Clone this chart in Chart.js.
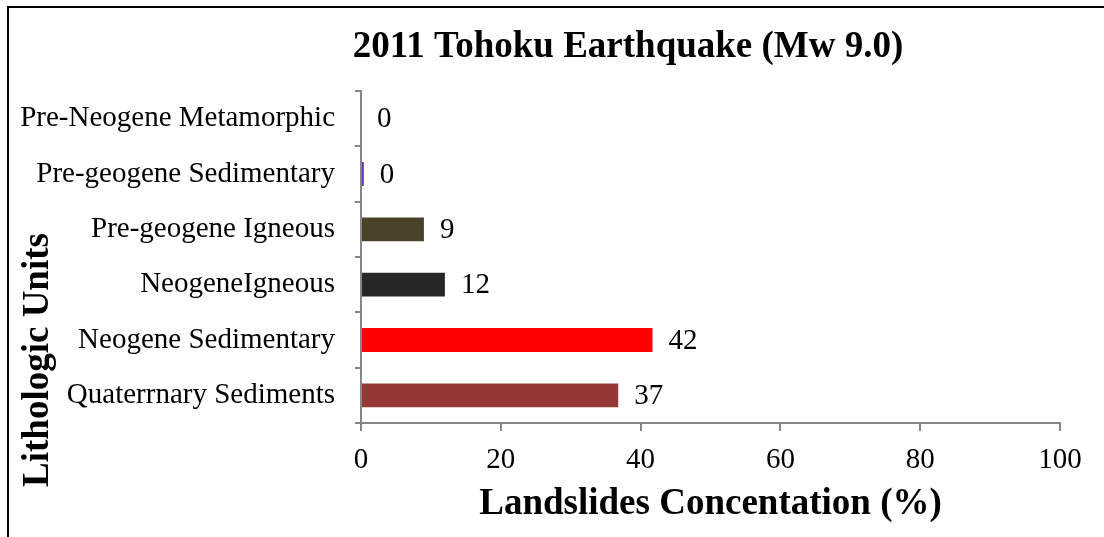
<!DOCTYPE html>
<html>
<head>
<meta charset="utf-8">
<title>2011 Tohoku Earthquake - Landslides by Lithology</title>
<script src="https://cdn.jsdelivr.net/npm/chart.js@4.4.1/dist/chart.umd.min.js"></script>
<style>
    html, body {
        margin: 0;
        padding: 0;
        background: #fff;
        overflow: hidden;
    }
    .chart-wrap {
        position: relative;
        width: 1104px;
        height: 537px;
    }
    .chart-wrap canvas {
        display: block;
    }
    .frame {
        position: absolute;
        left: 7px;
        top: 6px;
        right: -10px;
        bottom: -10px;
        border-top: 2px solid #000;
        border-left: 2px solid #000;
        pointer-events: none;
    }
</style>
</head>
<body>
<div class="chart-wrap">
    <canvas id="lithologyChart" width="1104" height="537"></canvas>
    <div class="frame"></div>
</div>
<script>
// Landslide share per lithologic unit
const units = [
    'Pre-Neogene Metamorphic',
    'Pre-geogene Sedimentary',
    'Pre-geogene Igneous',
    'NeogeneIgneous',
    'Neogene Sedimentary',
    'Quaterrnary Sediments'
];
const concentration = [0, 0.4, 9, 12, 41.7, 36.8];
const barColors = ['#4f81bd', '#7030a0', '#4a4229', '#262626', '#ff0000', '#953735'];
const xTicks = [0, 20, 40, 60, 80, 100];

const chartTitle = '2011 Tohoku Earthquake (Mw 9.0)';
const yTitle = 'Lithologic Units';
const xTitle = 'Landslides Concentation (%)';

const SERIF = '"Liberation Serif", "Times New Roman", serif';
const AXIS_GREY = '#868686';

// value labels just past the end of each bar
const barValueLabels = {
    id: 'barValueLabels',
    afterDatasetsDraw(chart) {
        const ctx = chart.ctx;
        const meta = chart.getDatasetMeta(0);
        ctx.save();
        ctx.font = '29px ' + SERIF;
        ctx.fillStyle = '#000';
        ctx.textAlign = 'left';
        ctx.textBaseline = 'middle';
        meta.data.forEach((bar, i) => {
            ctx.fillText(String(Math.round(concentration[i])), bar.x + 16, bar.y + 1);
        });
        ctx.restore();
    }
};

// main title and the rotated y-axis title; both sit off the plot centre
const outerTitles = {
    id: 'outerTitles',
    afterDraw(chart) {
        const ctx = chart.ctx;
        ctx.save();
        ctx.fillStyle = '#000';
        ctx.textAlign = 'center';

        ctx.font = 'bold 37px ' + SERIF;
        ctx.textBaseline = 'alphabetic';
        ctx.fillText(chartTitle, 628, 57);

        ctx.translate(48, 360);
        ctx.rotate(-Math.PI / 2);
        ctx.fillText(yTitle, 0, 0);
        ctx.restore();
    }
};

function initChart() {
    const ctx = document.getElementById('lithologyChart').getContext('2d');
    new Chart(ctx, {
        type: 'bar',
        data: {
            labels: units,
            datasets: [{
                data: concentration,
                backgroundColor: barColors,
                borderWidth: 0,
                categoryPercentage: 1,
                barPercentage: 0.43
            }]
        },
        options: {
            indexAxis: 'y',
            responsive: false,
            animation: false,
            devicePixelRatio: 1,
            layout: {
                padding: { left: 10, right: 44, top: 91, bottom: 0 }
            },
            plugins: {
                legend: { display: false },
                tooltip: { enabled: false },
                title: { display: false }
            },
            scales: {
                x: {
                    min: 0,
                    max: 100,
                    afterBuildTicks: scale => {
                        scale.ticks = xTicks.map(v => ({ value: v }));
                    },
                    afterFit: scale => { scale.height = 114; },
                    border: { color: AXIS_GREY, width: 2 },
                    grid: {
                        drawOnChartArea: false,
                        color: AXIS_GREY,
                        lineWidth: 2,
                        tickLength: 8
                    },
                    ticks: {
                        color: '#000',
                        padding: 12,
                        maxRotation: 0,
                        font: { family: SERIF, size: 29 }
                    },
                    title: {
                        display: true,
                        text: xTitle,
                        color: '#000',
                        font: { family: SERIF, size: 37, weight: 'bold' },
                        padding: { top: 0, bottom: 10 }
                    }
                },
                y: {
                    afterFit: scale => { scale.width = 351; },
                    border: { color: AXIS_GREY, width: 2 },
                    grid: {
                        drawOnChartArea: false,
                        offset: true,
                        color: AXIS_GREY,
                        lineWidth: 2,
                        tickLength: 6
                    },
                    ticks: {
                        color: '#000',
                        padding: 20,
                        autoSkip: false,
                        font: { family: SERIF, size: 29 }
                    }
                }
            }
        },
        plugins: [barValueLabels, outerTitles]
    });
}

document.addEventListener('DOMContentLoaded', initChart);
</script>
</body>
</html>
